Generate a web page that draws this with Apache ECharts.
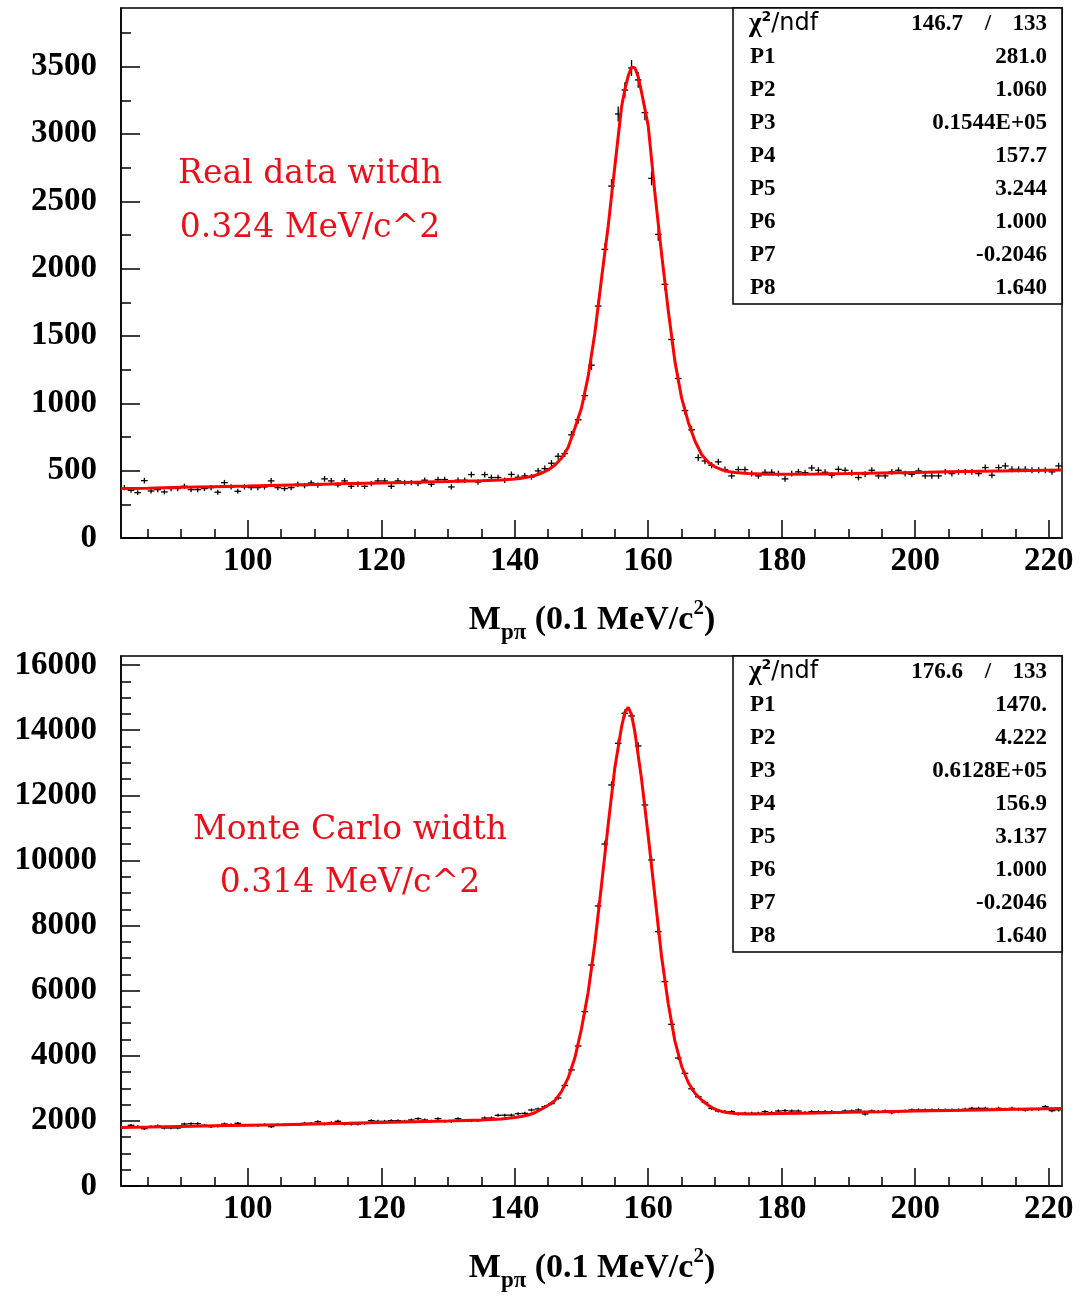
<!DOCTYPE html>
<html>
<head>
<meta charset="utf-8">
<script src="https://cdn.jsdelivr.net/npm/echarts@6/dist/echarts.min.js"></script>
<style>
html,body{margin:0;padding:0;background:#ffffff;}
#chart{width:1085px;height:1297px;}
</style>
</head>
<body>
<div id="chart"></div>
<script>
// ---------------- DATA ----------------
const binLow = 81;   // histogram range low edge
const binHigh = 222; // histogram range high edge

// Real data: counts per 1-unit bin, bins 81-82 ... 221-222
const realCounts = [
  374,354,337,426,349,359,342,367,367,384,
  359,359,367,374,340,411,379,347,379,374,
  374,379,424,374,367,374,399,389,409,392,
  439,424,394,424,384,399,384,404,424,424,
  384,424,411,411,404,429,399,434,434,379,
  429,429,471,416,471,449,449,429,472,451,
  461,453,498,515,555,607,627,766,877,1057,
  1283,1722,2143,2613,3148,3326,3490,3401,3158,2670,
  2254,1883,1474,1184,946,803,597,572,540,565,
  508,461,508,508,478,461,488,488,478,439,
  478,491,485,520,503,488,466,510,503,485,
  449,473,503,461,461,491,503,478,473,498,
  461,461,461,491,478,491,491,491,478,523,
  466,523,535,510,510,510,503,503,503,491,
  535
];

// Monte Carlo: counts per bin
const mcCounts = [
  1802,1864,1823,1761,1823,1843,1782,1782,1782,1905,
  1915,1915,1864,1823,1843,1905,1884,1925,1864,1864,
  1864,1884,1823,1884,1884,1884,1884,1925,1925,1976,
  1905,1946,1987,1905,1905,1905,1925,2007,1987,1987,
  2007,2007,1987,2028,2069,2028,1987,2069,1987,1987,
  2069,2007,2007,2007,2089,2089,2171,2176,2176,2222,
  2232,2335,2365,2437,2530,2704,3088,3564,4301,5356,
  6789,8602,10506,12319,13599,14521,14438,13517,11704,10015,
  7813,6277,4966,3932,3461,2985,2740,2565,2386,2304,
  2284,2284,2212,2232,2232,2232,2284,2253,2304,2314,
  2304,2304,2253,2284,2284,2284,2284,2253,2304,2304,
  2335,2212,2304,2284,2304,2253,2284,2304,2335,2335,
  2335,2335,2335,2335,2335,2335,2355,2386,2386,2386,
  2355,2386,2355,2386,2355,2335,2355,2355,2437,2314,
  2340
];

// Fit curves
const realFitX = [81,85,90,95,100,105,110,115,120,125,130,135,138,140,141,142,143,144,145,146,147,148,149,150,151,152,153,154,155,156,156.5,157,157.5,158,158.5,159,160,161,162,163,164,165,166,167,168,169,170,171,172,173,175,178,180,185,190,195,200,205,210,215,222];
const realFitY = [367,370,376,381,386,392,398,404,409,414,419,425,431,438,444,452,464,481,505,540,592,672,815,965,1200,1520,1925,2315,2760,3200,3330,3430,3495,3492,3425,3310,3060,2560,2110,1690,1310,1040,860,720,620,562,528,507,494,486,478,474,474,476,479,483,487,491,495,499,504];

const mcFitX = [81,85,90,95,100,105,110,115,120,125,130,135,138,140,141,142,143,144,145,146,147,148,149,150,151,152,153,154,155,156,156.5,157,157.5,158,159,160,161,162,163,164,165,166,167,168,169,170,171,172,173,175,178,180,185,190,195,200,205,210,215,222];
const mcFitY = [1800,1812,1830,1848,1866,1885,1905,1925,1948,1970,1993,2025,2060,2105,2135,2180,2250,2360,2480,2620,2900,3320,3930,4830,5950,7450,9250,11100,12850,14100,14550,14700,14480,13950,12500,10750,8900,7050,5600,4450,3680,3180,2850,2640,2480,2360,2290,2250,2228,2215,2220,2228,2245,2262,2280,2300,2318,2336,2354,2380];

// Axis ticks / labels
const xMajorTicks = [100,120,140,160,180,200,220];
const xMinorTicks = [85,90,95,105,110,115,125,130,135,145,150,155,165,170,175,185,190,195,205,210,215];
const realYMajor = [0,500,1000,1500,2000,2500,3000,3500];
const realYMinor = [250,750,1250,1750,2250,2750,3250,3750];
const mcYMajor = [0,2000,4000,6000,8000,10000,12000,14000,16000];
const mcYMinor = [500,1000,1500,2500,3000,3500,4500,5000,5500,6500,7000,7500,8500,9000,9500,10500,11000,11500,12500,13000,13500,14500,15000,15500];
const realYMax = 3935;
const mcYMax = 16280;

// Fit statistics boxes
const realChi = ['146.7', '133'];
const realParams = [['P1','281.0'],['P2','1.060'],['P3','0.1544E+05'],['P4','157.7'],['P5','3.244'],['P6','1.000'],['P7','-0.2046'],['P8','1.640']];
const mcChi = ['176.6', '133'];
const mcParams = [['P1','1470.'],['P2','4.222'],['P3','0.6128E+05'],['P4','156.9'],['P5','3.137'],['P6','1.000'],['P7','-0.2046'],['P8','1.640']];

const realNote = ['Real data witdh', '0.324 MeV/c^2'];
const mcNote = ['Monte Carlo width', '0.314 MeV/c^2'];

// ---------------- CHART ----------------
const SERIF = 'Liberation Serif';
const grids = [
  {left:121, top:8, width:941, height:530},
  {left:121, top:656, width:941, height:530}
];

function toPoints(counts){ return counts.map((v,i)=>[binLow + 0.5 + i, v]); }
function zip(xs, ys){ return xs.map((x,i)=>[x, ys[i]]); }

const labelStyle = {fontFamily: SERIF, fontWeight:'bold', fontSize:33, color:'#000'};

function xAxes(gi){
  return [
    {type:'value', gridIndex:gi, min:binLow, max:binHigh, position:'bottom',
     axisLine:{show:true, onZero:false, lineStyle:{color:'#000', width:1.5}},
     axisTick:{show:true, inside:true, length:18, customValues:xMajorTicks, lineStyle:{color:'#000', width:1.5}},
     axisLabel:Object.assign({show:true, margin:7, customValues:xMajorTicks, formatter:v=>String(v)}, labelStyle),
     splitLine:{show:false}},
    {type:'value', gridIndex:gi, min:binLow, max:binHigh, position:'bottom',
     axisLine:{show:false},
     axisTick:{show:true, inside:true, length:9, customValues:xMinorTicks, lineStyle:{color:'#000', width:1.5}},
     axisLabel:{show:false}, splitLine:{show:false}}
  ];
}
function yAxes(gi, ymax, major, minor){
  return [
    {type:'value', gridIndex:gi, min:0, max:ymax, position:'left',
     axisLine:{show:true, onZero:false, lineStyle:{color:'#000', width:1.5}},
     axisTick:{show:true, inside:true, length:19, customValues:major, lineStyle:{color:'#000', width:1.5}},
     axisLabel:Object.assign({show:true, margin:24, customValues:major, formatter:v=>String(v)}, labelStyle),
     splitLine:{show:false}},
    {type:'value', gridIndex:gi, min:0, max:ymax, position:'left',
     axisLine:{show:false},
     axisTick:{show:true, inside:true, length:10, customValues:minor, lineStyle:{color:'#000', width:1.5}},
     axisLabel:{show:false}, splitLine:{show:false}}
  ];
}

function renderCross(params, api){
  const x = api.value(0), y = api.value(1);
  const e = Math.sqrt(y);
  const l = api.coord([x-0.5, y]), r = api.coord([x+0.5, y]);
  const b = api.coord([x, y-e]), t = api.coord([x, y+e]);
  return {type:'group', children:[
    {type:'line', shape:{x1:l[0], y1:l[1], x2:r[0], y2:r[1]}, style:{stroke:'#000', lineWidth:1.3}},
    {type:'line', shape:{x1:b[0], y1:b[1], x2:t[0], y2:t[1]}, style:{stroke:'#000', lineWidth:1.3}}
  ]};
}

function histSeries(counts, xi, yi){
  return {type:'custom', xAxisIndex:xi, yAxisIndex:yi, data:toPoints(counts), renderItem:renderCross,
          clip:true, silent:true, z:3, encode:{x:0, y:1}};
}
function fitSeries(xs, ys, xi, yi){
  return {type:'line', xAxisIndex:xi, yAxisIndex:yi, data:zip(xs, ys), showSymbol:false, symbol:'none',
          smooth:false, lineStyle:{color:'#ff0000', width:3}, silent:true, z:4, clip:true};
}

// text measurement for composed labels
const mctx = document.createElement('canvas').getContext('2d');
function measure(t, size, weight, fam){
  mctx.font = (weight||'normal') + ' ' + size + 'px "' + fam + '"';
  return mctx.measureText(t).width;
}
function composed(parts, cx, cy, alignLeft){
  const widths = parts.map(p=>measure(p.t, p.size, p.weight, p.fam));
  const total = widths.reduce((a,b)=>a+b, 0);
  let x = alignLeft ? cx : cx - total/2;
  const out = [];
  parts.forEach((p,i)=>{
    out.push({type:'text', x:x, y:cy + (p.dy||0), z:50,
      style:{text:p.t, fontFamily:p.fam, fontSize:p.size, fontWeight:p.weight||'normal', fill:p.color||'#000',
             textAlign:'left', textVerticalAlign:'middle'}});
    x += widths[i];
  });
  return out;
}

function axisTitle(cx, cy){
  return composed([
    {t:'M', size:34, weight:'bold', fam:SERIF},
    {t:'p\u03c0', size:23, weight:'bold', fam:SERIF, dy:13},
    {t:' (0.1 MeV/c', size:34, weight:'bold', fam:SERIF},
    {t:'2', size:21, weight:'bold', fam:SERIF, dy:-11},
    {t:')', size:34, weight:'bold', fam:SERIF}
  ], cx, cy, false);
}

function statsBox(top, chi, params){
  const els = [];
  const FS = 23;
  els.push({type:'rect', shape:{x:733, y:top, width:329, height:296}, z:40,
            style:{fill:'#fff', stroke:'#000', lineWidth:1.5}});
  const row0 = top + 16;
  const step = 33;
  els.push(...composed([
    {t:'\u03c7', size:27, weight:'bold', fam:SERIF},
    {t:'2', size:14, weight:'bold', fam:'DejaVu Sans', dy:-7},
    {t:'/ndf', size:24, weight:'normal', fam:'DejaVu Sans'}
  ], 749, row0, true));
  const vs = {fontFamily:SERIF, fontWeight:'bold', fontSize:FS, fill:'#000', textVerticalAlign:'middle'};
  els.push({type:'text', x:963, y:row0, z:50, style:Object.assign({text:chi[0], textAlign:'right'}, vs)});
  els.push({type:'text', x:988, y:row0, z:50, style:Object.assign({text:'/', textAlign:'center'}, vs)});
  els.push({type:'text', x:1047, y:row0, z:50, style:Object.assign({text:chi[1], textAlign:'right'}, vs)});
  params.forEach((p,i)=>{
    const y = row0 + step*(i+1);
    els.push({type:'text', x:750, y:y, z:50, style:Object.assign({text:p[0], textAlign:'left'}, vs)});
    els.push({type:'text', x:1047, y:y, z:50, style:Object.assign({text:p[1], textAlign:'right'}, vs)});
  });
  return els;
}

function note(lines, cx, y1, y2){
  const st = {fontFamily:'DejaVu Serif', fontSize:33, fill:'#e8101a', textAlign:'center', textVerticalAlign:'middle'};
  return [
    {type:'text', x:cx, y:y1, z:50, style:Object.assign({text:lines[0]}, st)},
    {type:'text', x:cx, y:y2, z:50, style:Object.assign({text:lines[1]}, st)}
  ];
}

const chart = echarts.init(document.getElementById('chart'), null, {renderer:'canvas'});
const option = {
  animation:false,
  backgroundColor:'#ffffff',
  grid: grids.map(g=>Object.assign({show:true, borderColor:'#000', borderWidth:1.5, backgroundColor:'transparent', containLabel:false}, g)),
  xAxis: [...xAxes(0), ...xAxes(1)],
  yAxis: [...yAxes(0, realYMax, realYMajor, realYMinor), ...yAxes(1, mcYMax, mcYMajor, mcYMinor)],
  series: [
    histSeries(realCounts, 0, 0),
    fitSeries(realFitX, realFitY, 0, 0),
    histSeries(mcCounts, 2, 2),
    fitSeries(mcFitX, mcFitY, 2, 2)
  ],
  graphic: [
    ...statsBox(8, realChi, realParams),
    ...statsBox(656, mcChi, mcParams),
    ...note(realNote, 310, 174, 228),
    ...note(mcNote, 350, 830, 883),
    ...axisTitle(592, 620),
    ...axisTitle(592, 1268)
  ]
};
chart.setOption(option);
</script>
</body>
</html>
